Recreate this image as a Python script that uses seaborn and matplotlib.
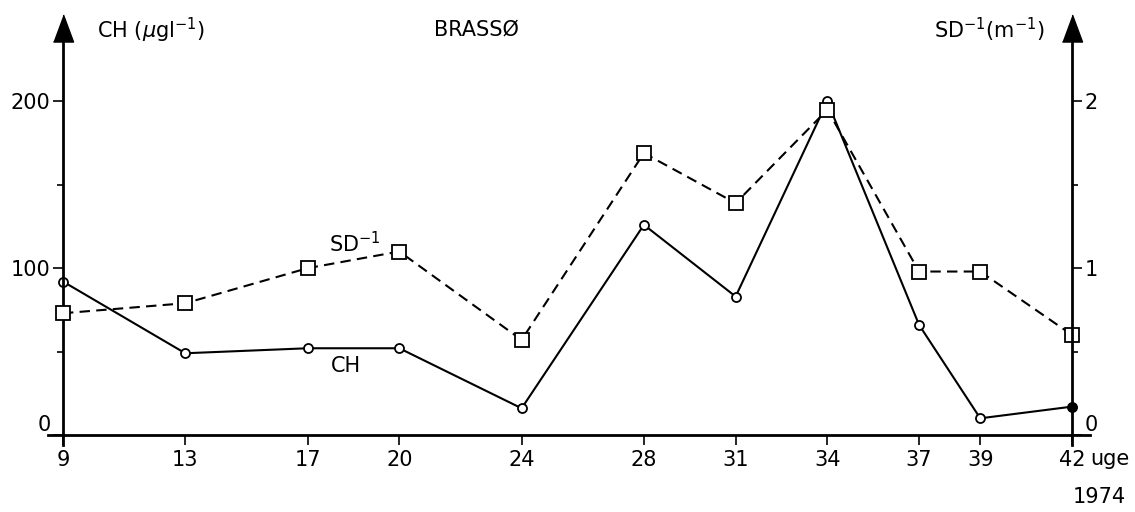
import pandas as pd
import seaborn as sns
import matplotlib.pyplot as plt

# week numbers (1974)
weeks = [9, 13, 17, 20, 24, 28, 31, 34, 37, 39, 42]
# chlorophyll, ug/l (left axis)
ch = [92, 49, 52, 52, 16, 126, 83, 200, 66, 10, 17]
# inverse Secchi depth, 1/m (right axis)
sd_inv = [0.73, 0.79, 1.00, 1.10, 0.57, 1.69, 1.39, 1.95, 0.98, 0.98, 0.60]

left_ticks = [0, 100, 200]
right_ticks = [0, 1, 2]

df = pd.DataFrame({"week": weeks, "ch": ch, "sd_inv": sd_inv})

sns.set_theme(style="white")
plt.rcParams["font.family"] = ["DejaVu Sans"]
plt.rcParams["font.size"] = 15
plt.rcParams["text.color"] = "black"
plt.rcParams["xtick.color"] = "black"
plt.rcParams["ytick.color"] = "black"

fig = plt.figure(figsize=(11.35, 5.12), dpi=100)
ax = fig.add_axes([48 / 1135, 67 / 512, (1090 - 48) / 1135, (484 - 67) / 512])
ax2 = ax.twinx()

ylim = (-6, 244)
ax.set_xlim(8.51, 42.59)
ax.set_ylim(*ylim)
ax2.set_ylim(ylim[0] / 100, ylim[1] / 100)

# CH: solid line, open circles, last point filled
sns.lineplot(data=df, x="week", y="ch", ax=ax, color="black", linewidth=1.5,
             marker="o", markersize=6.5, markerfacecolor="white",
             markeredgecolor="black", markeredgewidth=1.3)
sns.scatterplot(data=df.iloc[-1:], x="week", y="ch", ax=ax, color="black",
                s=45, edgecolor="black", zorder=5)

# SD^-1: dashed line, open squares
sns.lineplot(data=df, x="week", y="sd_inv", ax=ax2, color="black", linewidth=1.5,
             linestyle=(0, (5, 3)), marker="s", markersize=10,
             markerfacecolor="white", markeredgecolor="black", markeredgewidth=1.3)

# axes styling
for a in (ax, ax2):
    for s in a.spines.values():
        s.set_visible(False)
    a.set_xlabel("")
    a.set_ylabel("")

ax.spines["left"].set_visible(True)
ax.spines["left"].set_position(("data", 9))
ax.spines["bottom"].set_visible(True)
ax.spines["bottom"].set_position(("data", 0))
ax2.spines["right"].set_visible(True)
ax2.spines["right"].set_position(("data", 42))
for s in (ax.spines["left"], ax.spines["bottom"], ax2.spines["right"]):
    s.set_linewidth(2)
    s.set_color("black")

ax.set_xticks(weeks)
ax.set_xticklabels([str(w) for w in weeks])
ax.set_yticks(left_ticks)
ax.set_yticklabels([str(t) for t in left_ticks])
ax.set_yticks([50, 150], minor=True)
ax2.set_yticks(right_ticks)
ax2.set_yticklabels([str(t) for t in right_ticks])
ax2.set_yticks([0.5, 1.5], minor=True)

ax.tick_params(axis="x", which="both", direction="out", length=7, width=1.2,
               bottom=True, labelsize=15, pad=4)
ax.tick_params(axis="y", which="major", direction="out", length=7, width=1.2,
               left=True, labelsize=15, pad=2)
ax.tick_params(axis="y", which="minor", direction="out", length=4, width=1.2, left=True)
ax2.tick_params(axis="y", which="major", direction="out", length=7, width=1.2,
                right=True, labelsize=15, pad=2)
ax2.tick_params(axis="y", which="minor", direction="out", length=4, width=1.2, right=True)
ax2.tick_params(axis="x", bottom=False, labelbottom=False)
ax.grid(False)
ax2.grid(False)

# the zero labels sit above the baseline
ax.get_yticklabels()[0].set_verticalalignment("bottom")
ax2.get_yticklabels()[0].set_verticalalignment("bottom")

# arrow heads on the vertical axes
arrow = [(-10, -13.5), (10, -13.5), (0, 13.5)]
ax.plot(9, 1, marker=arrow, markersize=19.5, color="black",
        transform=ax.get_xaxis_transform(), clip_on=False)
ax.plot(42, 1, marker=arrow, markersize=19.5, color="black",
        transform=ax.get_xaxis_transform(), clip_on=False)

# headers
fig.text(97 / 1135, 1 - 30 / 512, r"CH ($\mu$gl$^{-1}$)", ha="left", va="center", fontsize=15)
fig.text(476 / 1135, 1 - 30 / 512, "BRASSØ", ha="center", va="center", fontsize=15)
fig.text(1045 / 1135, 1 - 30 / 512, r"SD$^{-1}$(m$^{-1}$)", ha="right", va="center", fontsize=15)

# series labels
ax.text(18.55, 114.7, r"SD$^{-1}$", ha="center", va="center", fontsize=15)
ax.text(18.25, 41.4, "CH", ha="center", va="center", fontsize=15)

# x unit and year
ax.annotate("uge", xy=(42, 0), xycoords="data", xytext=(13, -17),
            textcoords="offset points", ha="left", va="center", fontsize=15)
ax.annotate("1974", xy=(42, 0), xycoords="data", xytext=(20, -45),
            textcoords="offset points", ha="center", va="center", fontsize=15)

fig.savefig("out.png", dpi=100)
